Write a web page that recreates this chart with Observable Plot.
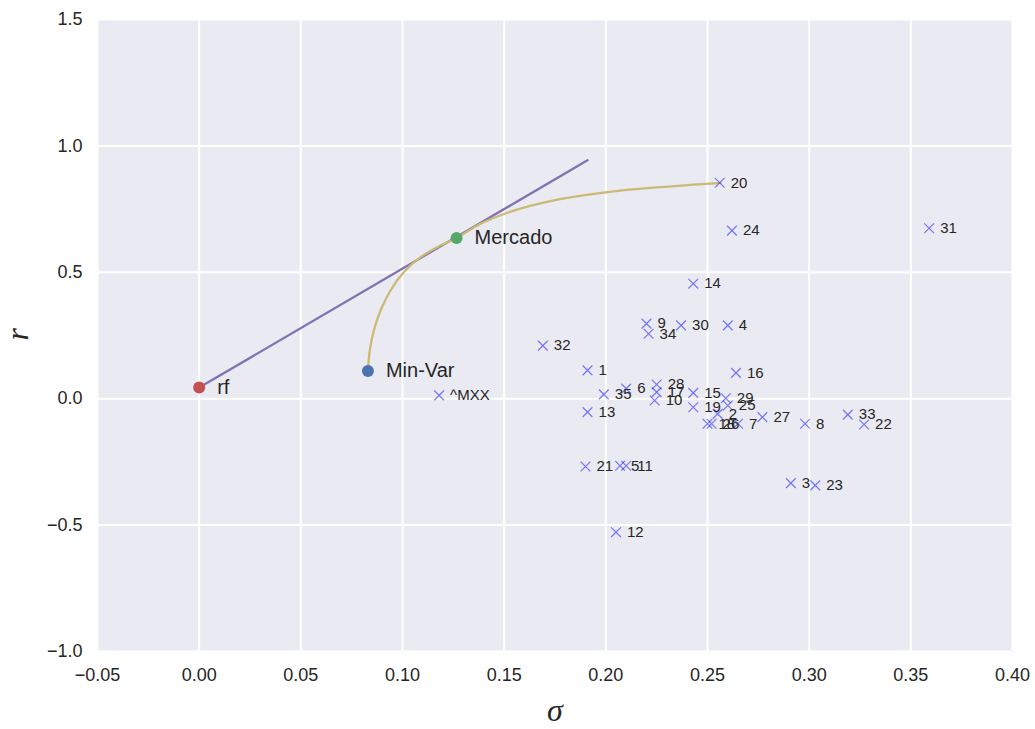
<!DOCTYPE html>
<html>
<head>
<meta charset="utf-8">
<script src="https://cdn.jsdelivr.net/npm/d3@7"></script>
<script src="https://cdn.jsdelivr.net/npm/@observablehq/plot@0.6"></script>
<style>
  html, body { margin: 0; padding: 0; background: white; }
</style>
</head>
<body>
<div id="chart"></div>
<script>
// Assets: labels, volatility (sigma) and return (r)
const assetLabels = ["^MXX","1","2","3","4","5","6","7","8","9","10","11","12","13","14","15","16","17","18","19","20","21","22","23","24","25","26","27","28","29","30","31","32","33","34","35"];
const assetSigma  = [0.118,0.191,0.255,0.291,0.260,0.207,0.210,0.265,0.298,0.220,0.224,0.210,0.205,0.191,0.243,0.243,0.264,0.225,0.250,0.243,0.256,0.190,0.327,0.303,0.262,0.260,0.252,0.277,0.225,0.259,0.237,0.359,0.169,0.319,0.221,0.199];
const assetReturn = [0.013,0.112,-0.060,-0.334,0.290,-0.265,0.040,-0.099,-0.099,0.297,-0.007,-0.265,-0.528,-0.053,0.455,0.023,0.102,0.026,-0.099,-0.034,0.854,-0.268,-0.102,-0.343,0.665,-0.027,-0.099,-0.073,0.056,0.002,0.290,0.674,0.210,-0.063,0.257,0.017];

// Efficient frontier
const frontierSigma  = [0.083,0.0839,0.0859,0.0892,0.0941,0.1006,0.1089,0.1187,0.1266,0.1384,0.1547,0.1728,0.2007,0.2269,0.2564];
const frontierReturn = [0.110,0.191,0.270,0.349,0.428,0.500,0.560,0.606,0.636,0.692,0.744,0.782,0.817,0.837,0.854];

// Capital market line
const cmlSigma  = [0.0, 0.191];
const cmlReturn = [0.044, 0.943];

// Special portfolios
const specialNames  = ["rf", "Min-Var", "Mercado"];
const specialSigma  = [0.0, 0.083, 0.1266];
const specialReturn = [0.044, 0.110, 0.636];
const specialColors = ["#C44E52", "#4C72B0", "#55A868"];

// Ticks
const xTicks = [-0.05,0,0.05,0.10,0.15,0.20,0.25,0.30,0.35,0.40];
const yTicks = [-1.0,-0.5,0.0,0.5,1.0,1.5];

const assets = assetLabels.map((l, i) => ({label: l, s: assetSigma[i], r: assetReturn[i]}));
const frontier = frontierSigma.map((s, i) => ({s, r: frontierReturn[i]}));
const cml = cmlSigma.map((s, i) => ({s, r: cmlReturn[i]}));
const special = specialNames.map((n, i) => ({name: n, s: specialSigma[i], r: specialReturn[i], c: specialColors[i]}));

const chart = Plot.plot({
  width: 1035,
  height: 729,
  marginLeft: 97,
  marginRight: 23,
  marginTop: 19,
  marginBottom: 78,
  style: {fontFamily: "'Liberation Sans', Arial, sans-serif", fontSize: "18px", background: "white", color: "#262626"},
  x: {domain: [-0.05, 0.40]},
  y: {domain: [-1.0, 1.5]},
  marks: [
    Plot.frame({fill: "#EAEAF2", stroke: "#d6d6de", strokeWidth: 1}),
    Plot.gridX(xTicks, {stroke: "white", strokeOpacity: 1, strokeWidth: 2}),
    Plot.gridY(yTicks, {stroke: "white", strokeOpacity: 1, strokeWidth: 2}),
    Plot.axisX(xTicks, {tickSize: 0, tickPadding: 17, tickFormat: d3.format(".2f"), label: null, fontSize: 18}),
    Plot.axisY(yTicks, {tickSize: 0, tickPadding: 15, tickFormat: d3.format(".1f"), label: null, fontSize: 18}),
    Plot.line(cml, {x: "s", y: "r", stroke: "#8172B2", strokeWidth: 2.3}),
    Plot.line(frontier, {x: "s", y: "r", stroke: "#CCB974", strokeWidth: 2.3, curve: "catmull-rom"}),
    Plot.dot(assets, {x: "s", y: "r", symbol: "times", r: 4.5, stroke: "#0000ff", strokeOpacity: 0.5, strokeWidth: 1.2}),
    Plot.text(assets, {x: "s", y: "r", text: "label", dx: 11, textAnchor: "start", fontSize: 15, fill: "#262626"}),
    Plot.dot(special, {x: "s", y: "r", r: 6, fill: "c", stroke: null}),
    Plot.text(special, {x: "s", y: "r", text: "name", dx: 18, textAnchor: "start", fontSize: 20, fill: "#262626"}),
    Plot.text(["σ"], {text: d => d, frameAnchor: "bottom", dy: 69, fontSize: 32, fontStyle: "italic", fontFamily: "'Liberation Serif', 'DejaVu Serif', serif", fill: "#262626"}),
    Plot.text(["r"], {text: d => d, frameAnchor: "left", dx: -80, dy: 5, rotate: -90, fontSize: 32, fontStyle: "italic", fontFamily: "'Liberation Serif', 'DejaVu Serif', serif", fill: "#262626"})
  ]
});
document.getElementById("chart").appendChild(chart);
</script>
</body>
</html>
